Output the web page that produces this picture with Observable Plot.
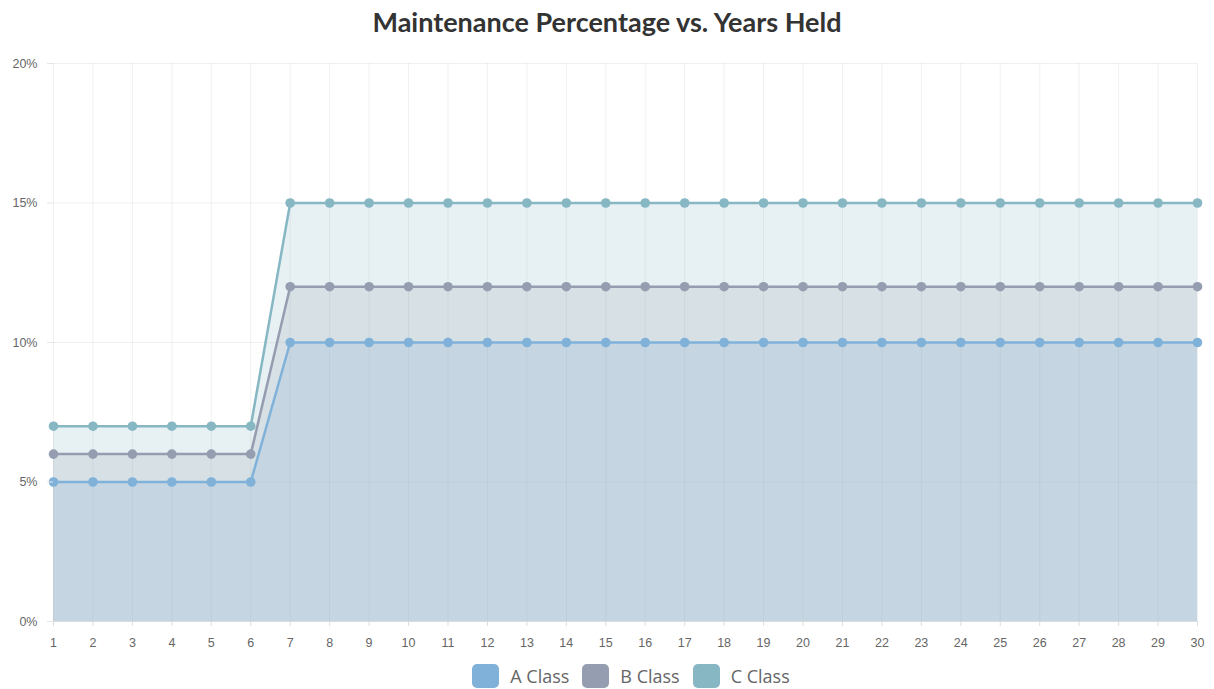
<!DOCTYPE html>
<html>
<head>
<meta charset="utf-8">
<script src="https://cdn.jsdelivr.net/npm/d3@7"></script>
<script src="https://cdn.jsdelivr.net/npm/@observablehq/plot@0.6"></script>
<style>
  html, body { margin: 0; padding: 0; background: #fff; }
  #title { height: 45px; line-height: 44px; text-align: center; font-family: Lato, "Open Sans", sans-serif; font-weight: 700; font-size: 27px; color: #333; }
  #chart svg { display: block; }
  #legend { display: flex; justify-content: center; gap: 13px; margin-left: 48px; padding-top: 4px; font-family: "Open Sans", sans-serif; font-size: 18px; line-height: 24px; color: #666; }
  .item { display: flex; align-items: center; gap: 11px; }
  .sw { width: 27px; height: 24px; border-radius: 5px; }
</style>
</head>
<body>
<div id="title">Maintenance Percentage vs. Years Held</div>
<div id="chart"></div>
<div id="legend"></div>
<script>
const years = [1,2,3,4,5,6,7,8,9,10,11,12,13,14,15,16,17,18,19,20,21,22,23,24,25,26,27,28,29,30];
const aClass = [5,5,5,5,5,5,10,10,10,10,10,10,10,10,10,10,10,10,10,10,10,10,10,10,10,10,10,10,10,10];
const bClass = [6,6,6,6,6,6,12,12,12,12,12,12,12,12,12,12,12,12,12,12,12,12,12,12,12,12,12,12,12,12];
const cClass = [7,7,7,7,7,7,15,15,15,15,15,15,15,15,15,15,15,15,15,15,15,15,15,15,15,15,15,15,15,15];
const seriesNames = ["A Class", "B Class", "C Class"];
const seriesColors = ["#80b1d9", "#949eb0", "#86b7c3"];
const yTicks = [0, 5, 10, 15, 20];

const seriesValues = [aClass, bClass, cClass];
const data = seriesNames.flatMap((name, i) => years.map((y, j) => ({series: name, year: y, value: seriesValues[i][j]})));
const drawOrder = ["C Class", "B Class", "A Class"];

const marks = [
  Plot.gridX(years, {stroke: "#000", strokeOpacity: 0.06}),
  Plot.gridY(yTicks, {stroke: "#000", strokeOpacity: 0.06}),
  Plot.ruleY([0], {stroke: "#ddd"}),
];
for (const name of drawOrder) {
  const i = seriesNames.indexOf(name);
  const d = data.filter(r => r.series === name);
  marks.push(Plot.areaY(d, {x: "year", y: "value", fill: seriesColors[i], fillOpacity: 0.2}));
}
for (const name of drawOrder) {
  const i = seriesNames.indexOf(name);
  const d = data.filter(r => r.series === name);
  marks.push(Plot.lineY(d, {x: "year", y: "value", stroke: seriesColors[i], strokeWidth: 2.5}));
  marks.push(Plot.dot(d, {x: "year", y: "value", fill: seriesColors[i], r: 4.8}));
}
marks.push(Plot.axisX({ticks: years, tickSize: 5, tickPadding: 12, stroke: "#ddd", fill: "#666", fontSize: 12.5, tickFormat: d => d}));
marks.push(Plot.axisY({ticks: yTicks, tickSize: 6, tickPadding: 10, stroke: "#e6e6e6", fill: "#666", fontSize: 12.5, tickFormat: d => d + "%"}));

const chart = Plot.plot({
  width: 1214,
  height: 615,
  marginTop: 18,
  marginBottom: 39,
  marginLeft: 53,
  marginRight: 17,
  style: {fontFamily: "'Liberation Sans', Arial, sans-serif", fontSize: "12.5px", background: "#fff", color: "#666"},
  x: {domain: [1, 30], label: null},
  y: {domain: [0, 20], label: null},
  marks
});
document.getElementById("chart").appendChild(chart);

const legend = document.getElementById("legend");
seriesNames.forEach((name, i) => {
  const item = document.createElement("div");
  item.className = "item";
  const sw = document.createElement("div");
  sw.className = "sw";
  sw.style.background = seriesColors[i];
  const t = document.createElement("span");
  t.textContent = name;
  item.appendChild(sw); item.appendChild(t);
  legend.appendChild(item);
});
</script>
</body>
</html>
